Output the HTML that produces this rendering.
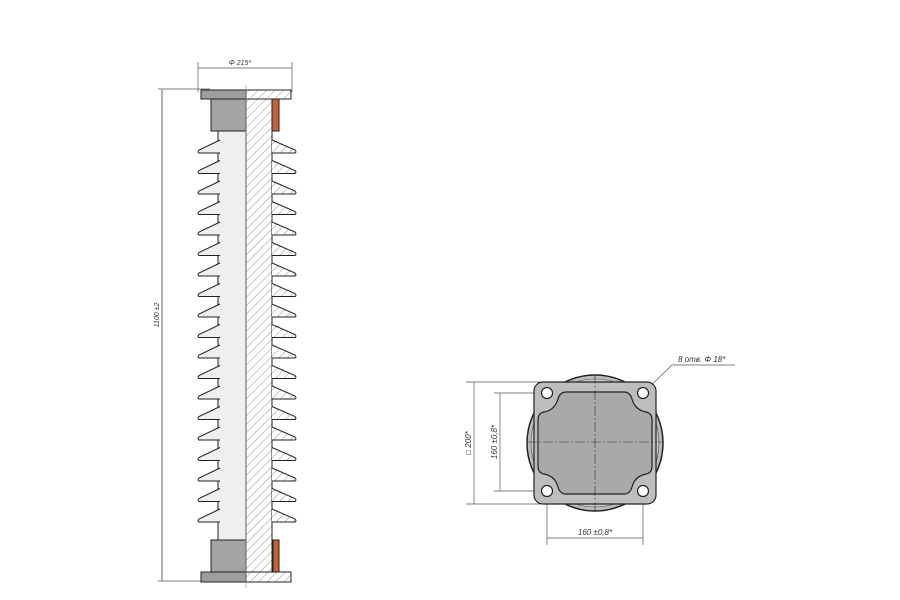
<!DOCTYPE html>
<html><head><meta charset="utf-8"><style>
html,body{margin:0;padding:0;background:#fff;}
svg{display:block;font-family:"Liberation Sans",sans-serif;}
</style></head><body>
<svg id="s" width="900" height="600" viewBox="0 0 900 600" xmlns="http://www.w3.org/2000/svg">
<defs>
<pattern id="h" width="6" height="6" patternUnits="userSpaceOnUse" patternTransform="rotate(45)">
<rect width="6" height="6" fill="#fff"/><line x1="0" y1="0" x2="0" y2="6" stroke="#777" stroke-width="0.8"/>
</pattern>
</defs>
<g stroke="#555" stroke-width="0.7" fill="none">
<line x1="198" y1="62" x2="198" y2="92"/><line x1="292" y1="62" x2="292" y2="92"/>
<line x1="198" y1="68" x2="292" y2="68"/>
<line x1="158" y1="89" x2="210" y2="89"/><line x1="158" y1="581" x2="210" y2="581"/>
</g>
<line x1="162" y1="89" x2="162" y2="581" stroke="#999" stroke-width="1.5"/>
<text x="240" y="65" font-size="7" font-style="italic" text-anchor="middle" fill="#333">Φ 215*</text>
<text transform="translate(159,315) rotate(-90)" font-size="7" font-style="italic" text-anchor="middle" fill="#333">1100 ±2</text>
<g id="ins"></g>
<g stroke="#222" stroke-width="1">
<rect x="201" y="90" width="45" height="9" fill="#9e9e9e"/>
<rect x="211" y="99" width="35" height="32" fill="#a4a4a4"/>
<rect x="246" y="90" width="45" height="9" fill="url(#h)"/>
<rect x="272" y="99" width="7" height="32" fill="#c0623a"/>
<rect x="201" y="572" width="45" height="10" fill="#9e9e9e"/>
<rect x="211" y="540" width="35" height="32" fill="#a4a4a4"/>
<rect x="246" y="572" width="45" height="10" fill="url(#h)"/>
<rect x="273" y="540" width="6" height="32" fill="#c0623a"/>
</g>
<line x1="246" y1="85" x2="246" y2="588" stroke="#888" stroke-width="0.6"/>
<g stroke="#555" stroke-width="0.7" fill="none">
<line x1="466" y1="382" x2="540" y2="382"/><line x1="466" y1="504" x2="540" y2="504"/>
<line x1="474" y1="382" x2="474" y2="504"/>
<line x1="494" y1="393" x2="547" y2="393"/><line x1="494" y1="491" x2="547" y2="491"/>
<line x1="500" y1="393" x2="500" y2="491"/>
<line x1="547" y1="491" x2="547" y2="545"/><line x1="643" y1="491" x2="643" y2="545"/>
<line x1="547" y1="538" x2="643" y2="538"/>
<polyline points="643,393 672,365 735,365"/>
</g>
<circle cx="595" cy="443" r="68" fill="#bbb" stroke="#222" stroke-width="1.5"/>
<circle cx="595" cy="443" r="64" fill="#ccc" stroke="#444" stroke-width="0.6"/>
<rect x="534" y="382" width="122" height="122" rx="9" fill="#bdbdbd" stroke="#222" stroke-width="1.2"/>
<path d="M566,392 H624 Q630,392 632,399 Q635,410 646,412 Q652,413 652,420 V466 Q652,473 646,474 Q635,476 632,487 Q630,494 624,494 H566 Q560,494 558,487 Q555,476 544,474 Q538,473 538,466 V420 Q538,413 544,412 Q555,410 558,399 Q560,392 566,392 Z" fill="#a9a9a9" stroke="#222" stroke-width="1.2"/>
<g fill="#fff" stroke="#222" stroke-width="1.2">
<circle cx="547" cy="393" r="5.5"/><circle cx="643" cy="393" r="5.5"/>
<circle cx="547" cy="491" r="5.5"/><circle cx="643" cy="491" r="5.5"/>
</g>
<g stroke="#333" stroke-width="0.6" stroke-dasharray="10,2,2,2">
<line x1="595" y1="374" x2="595" y2="512"/><line x1="527" y1="442" x2="663" y2="442"/>
</g>
<g font-size="8" font-style="italic" fill="#333">
<text x="678" y="362">8  отв.  Φ 18*</text>
<text x="595" y="535" text-anchor="middle">160 ±0,8*</text>
<text transform="translate(471,443) rotate(-90)" text-anchor="middle">□ 200*</text>
<text transform="translate(497,442) rotate(-90)" text-anchor="middle">160 ±0,8*</text>
</g>
</svg>
<script>
var g=document.getElementById('ins'),s='';
s+='<rect x="218" y="131" width="28" height="409" fill="#efefef" stroke="#222" stroke-width="1"/>';
s+='<rect x="246" y="99" width="26" height="473" fill="url(#h)" stroke="#222" stroke-width="1"/>';
for(var i=0;i<19;i++){var y=140+i*20.5;
s+='<path d="M220,'+y+' L199,'+(y+10)+' Q197,'+(y+12)+' 199,'+(y+13)+' L220,'+(y+13)+'" fill="#efefef" stroke="#222" stroke-width="1"/>';
s+='<path d="M272,'+y+' L295,'+(y+10)+' Q297,'+(y+12)+' 295,'+(y+13)+' L272,'+(y+13)+'" fill="url(#h)" stroke="#222" stroke-width="1"/>';}
g.innerHTML=s;
</script>
</body></html>
